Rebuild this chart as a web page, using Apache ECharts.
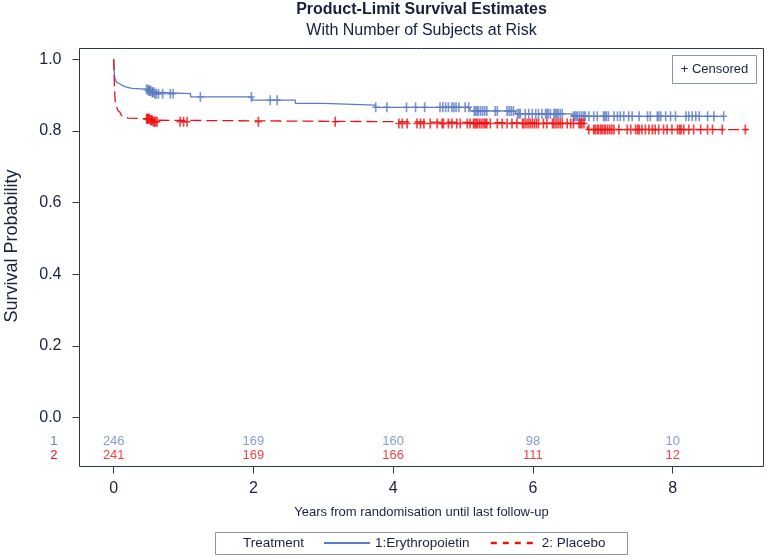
<!DOCTYPE html>
<html>
<head>
<meta charset="utf-8">
<script src="https://cdn.jsdelivr.net/npm/echarts@6/dist/echarts.min.js"></script>
<style>
html,body{margin:0;padding:0;background:#fff;}
#chart{width:767px;height:559px;}
</style>
</head>
<body>
<div id="chart"></div>
<script>
// ---- data ----
const timeEpo = [0, 0.003, 0.006, 0.01, 0.02, 0.03, 0.043, 0.06, 0.09, 0.12, 0.16, 0.20, 0.26, 0.50, 0.54, 0.58, 1.10, 1.98, 2.60, 3.00, 3.74, 5.10, 5.75, 6.56];
const survEpo = [1.000, 0.985, 0.970, 0.955, 0.945, 0.940, 0.936, 0.931, 0.927, 0.924, 0.922, 0.919, 0.916, 0.912, 0.908, 0.904, 0.895, 0.886, 0.877, 0.872, 0.866, 0.856, 0.848, 0.841];
const endEpo = 8.73;
const censorEpo = [0.47, 0.49, 0.50, 0.51, 0.52, 0.53, 0.55, 0.56, 0.57, 0.59, 0.61, 0.64, 0.70, 0.81, 0.85, 1.24, 1.97, 2.24, 2.34, 3.75, 3.91, 4.19, 4.32, 4.45, 4.67, 4.71, 4.75, 4.79, 4.84, 4.87, 4.90, 4.94, 5.03, 5.08, 5.16, 5.18, 5.20, 5.22, 5.25, 5.28, 5.31, 5.34, 5.46, 5.49, 5.63, 5.66, 5.69, 5.72, 5.78, 5.80, 5.82, 5.89, 5.94, 5.99, 6.04, 6.08, 6.13, 6.18, 6.20, 6.22, 6.25, 6.30, 6.32, 6.34, 6.36, 6.39, 6.42, 6.58, 6.60, 6.62, 6.64, 6.67, 6.70, 6.73, 6.75, 6.80, 6.87, 6.92, 7.01, 7.03, 7.05, 7.08, 7.16, 7.21, 7.25, 7.30, 7.37, 7.42, 7.52, 7.64, 7.68, 7.78, 7.80, 7.83, 7.90, 7.97, 8.04, 8.19, 8.23, 8.28, 8.33, 8.38, 8.50, 8.59, 8.73];

const timePla = [0, 0.003, 0.006, 0.01, 0.015, 0.02, 0.03, 0.043, 0.06, 0.075, 0.09, 0.11, 0.14, 0.17, 0.21, 0.52, 0.56, 3.95, 6.78];
const survPla = [1.000, 0.975, 0.950, 0.927, 0.905, 0.885, 0.875, 0.866, 0.857, 0.852, 0.848, 0.843, 0.838, 0.836, 0.834, 0.830, 0.826, 0.821, 0.804];
const endPla = 9.08;
const censorPla = [0.47, 0.48, 0.49, 0.50, 0.51, 0.53, 0.54, 0.55, 0.57, 0.58, 0.60, 0.62, 0.95, 1.00, 1.05, 2.07, 3.17, 4.08, 4.13, 4.20, 4.34, 4.39, 4.44, 4.53, 4.63, 4.70, 4.72, 4.79, 4.84, 4.91, 4.96, 5.06, 5.10, 5.15, 5.17, 5.19, 5.21, 5.24, 5.27, 5.30, 5.32, 5.34, 5.39, 5.49, 5.56, 5.63, 5.70, 5.77, 5.85, 5.87, 5.90, 5.93, 5.96, 5.99, 6.02, 6.05, 6.08, 6.15, 6.20, 6.28, 6.30, 6.33, 6.36, 6.39, 6.42, 6.49, 6.54, 6.58, 6.66, 6.68, 6.70, 6.73, 6.80, 6.87, 6.89, 6.92, 6.94, 6.97, 6.99, 7.02, 7.04, 7.07, 7.10, 7.13, 7.16, 7.23, 7.35, 7.40, 7.47, 7.50, 7.52, 7.56, 7.61, 7.66, 7.71, 7.75, 7.80, 7.87, 7.92, 7.99, 8.07, 8.10, 8.12, 8.16, 8.23, 8.30, 8.40, 8.50, 8.57, 8.71, 9.04];

const riskTimes = [0, 2, 4, 6, 8];
const riskEpo = [246, 169, 160, 98, 10];
const riskPla = [241, 169, 166, 111, 12];
const riskGroups = ['1', '2'];

const xTicks = [0, 2, 4, 6, 8];
const yTicks = [0.0, 0.2, 0.4, 0.6, 0.8, 1.0];
const seriesNames = ['1:Erythropoietin', '2: Placebo'];

// ---- styling ----
const FONT = '"Liberation Sans", Arial, sans-serif';
const TXT = '#18233d';
const AX = '#2c3852';
const BLUE = '#5b7cc4';
const BLUE_TXT = '#6384cc';
const RED = '#ee1111';
const BOXC = '#8a95a8';
const XMIN = -0.49, XMAX = 9.3;
const PLUS = 'path://M2.3,0 L3.7,0 L3.7,3.4 L6,3.4 L6,4.6 L3.7,4.6 L3.7,8 L2.3,8 L2.3,4.6 L0,4.6 L0,3.4 L2.3,3.4 Z';

function levelAt(times, surv, t) {
  let s = surv[0];
  for (let i = 0; i < times.length; i++) { if (times[i] <= t) s = surv[i]; else break; }
  return s;
}
function stepData(times, surv, end) {
  const d = times.map((t, i) => [t, surv[i]]);
  d.push([end, surv[surv.length - 1]]);
  return d;
}

const chart = echarts.init(document.getElementById('chart'), null, {renderer: 'canvas'});
const option = {
  animation: false,
  backgroundColor: '#fff',
  textStyle: {fontFamily: FONT},
  grid: [
    {left: 79.5, top: 59.3, width: 684, height: 358.4, outerBoundsMode: 'none', containLabel: false},
    {left: 79.5, top: 48.5, width: 684, height: 418, show: true, borderColor: AX, borderWidth: 1, backgroundColor: 'transparent', outerBoundsMode: 'none', containLabel: false},
    {left: 79.5, top: 434, width: 684, height: 28, outerBoundsMode: 'none', containLabel: false}
  ],
  xAxis: [
    {gridIndex: 0, type: 'value', min: XMIN, max: XMAX, show: false},
    {gridIndex: 1, type: 'value', min: XMIN, max: XMAX,
      axisLine: {show: false, onZero: false},
      axisTick: {show: true, customValues: xTicks, length: 7, lineStyle: {color: AX, width: 1}},
      axisLabel: {customValues: xTicks, fontSize: 16, color: TXT, margin: 14, fontFamily: FONT},
      splitLine: {show: false},
      name: 'Years from randomisation until last follow-up', nameLocation: 'middle', nameGap: 39,
      nameMoveOverlap: false,
      nameTextStyle: {fontSize: 13, color: TXT, fontFamily: FONT}
    },
    {gridIndex: 2, type: 'value', min: XMIN, max: XMAX, show: false}
  ],
  yAxis: [
    {gridIndex: 0, type: 'value', min: 0, max: 1, interval: 0.2,
      axisLine: {show: false, onZero: false},
      axisTick: {show: true, length: 7, lineStyle: {color: AX, width: 1}},
      axisLabel: {fontSize: 16, color: TXT, margin: 18, fontFamily: FONT, formatter: v => Number(v).toFixed(1)},
      splitLine: {show: false}
    },
    {gridIndex: 1, type: 'value', min: 0, max: 1, show: false, axisLine: {onZero: false}},
    {gridIndex: 2, type: 'category', data: riskGroups, inverse: true,
      axisLine: {show: false, onZero: false}, axisTick: {show: false}, splitLine: {show: false},
      axisLabel: {interval: 0, fontSize: 13, margin: 22, fontFamily: FONT, color: (v, i) => (i === 0 ? BLUE_TXT : RED)}
    }
  ],
  legend: {
    data: [
      {name: seriesNames[0], lineStyle: {width: 2, type: 'solid'}, itemStyle: {opacity: 0}},
      {name: seriesNames[1], lineStyle: {width: 2.5, type: [6, 6]}, itemStyle: {opacity: 0}}
    ],
    left: 323, top: 536, padding: 0, itemWidth: 46, itemHeight: 14, itemGap: 20, itemTextGap: 5,
    selectedMode: false,
    itemStyle: {opacity: 0},
    textStyle: {fontSize: 13.5, color: TXT, fontFamily: FONT}
  },
  series: [
    {name: seriesNames[0], type: 'line', xAxisIndex: 0, yAxisIndex: 0, step: 'end', symbol: 'none',
      data: stepData(timeEpo, survEpo, endEpo), color: BLUE,
      lineStyle: {color: BLUE, width: 1.3}, z: 3},
    {name: seriesNames[1], type: 'line', xAxisIndex: 0, yAxisIndex: 0, step: 'end', symbol: 'none',
      data: stepData(timePla, survPla, endPla), color: RED,
      lineStyle: {color: RED, width: 1.3, type: [11, 5]}, z: 3},
    {name: 'censEpo', type: 'scatter', xAxisIndex: 0, yAxisIndex: 0, symbol: PLUS, symbolSize: [7, 10],
      data: censorEpo.map(t => [t, levelAt(timeEpo, survEpo, t)]), itemStyle: {color: BLUE}, silent: true, z: 4},
    {name: 'censPla', type: 'scatter', xAxisIndex: 0, yAxisIndex: 0, symbol: PLUS, symbolSize: [7, 10],
      data: censorPla.map(t => [t, levelAt(timePla, survPla, t)]), itemStyle: {color: RED}, silent: true, z: 4},
    {name: 'riskEpo', type: 'scatter', xAxisIndex: 2, yAxisIndex: 2, symbolSize: 0.1,
      itemStyle: {color: 'transparent'}, silent: true,
      data: riskTimes.map((t, i) => [t, riskGroups[0], riskEpo[i]]),
      label: {show: true, position: 'inside', formatter: p => String(p.value[2]), fontSize: 13, color: BLUE_TXT, fontFamily: FONT}},
    {name: 'riskPla', type: 'scatter', xAxisIndex: 2, yAxisIndex: 2, symbolSize: 0.1,
      itemStyle: {color: 'transparent'}, silent: true,
      data: riskTimes.map((t, i) => [t, riskGroups[1], riskPla[i]]),
      label: {show: true, position: 'inside', formatter: p => String(p.value[2]), fontSize: 13, color: RED, fontFamily: FONT}}
  ],
  graphic: [
    {type: 'text', x: 421.5, y: 10, style: {text: 'Product-Limit Survival Estimates', fill: '#142040', font: 'bold 16px ' + FONT, align: 'center', verticalAlign: 'middle'}},
    {type: 'text', x: 421.5, y: 31, style: {text: 'With Number of Subjects at Risk', fill: '#142040', font: '16px ' + FONT, align: 'center', verticalAlign: 'middle'}},
    {type: 'text', x: 12, y: 246, rotation: Math.PI / 2, style: {text: 'Survival Probability', fill: TXT, font: '18px ' + FONT, align: 'center', verticalAlign: 'middle'}},
    {type: 'rect', shape: {x: 672.5, y: 55.5, width: 84, height: 28}, style: {fill: '#fff', stroke: BOXC, lineWidth: 1}, z: 10},
    {type: 'text', x: 714.5, y: 69.5, style: {text: '+ Censored', fill: TXT, font: '13px ' + FONT, align: 'center', verticalAlign: 'middle'}, z: 11},
    {type: 'rect', shape: {x: 215.5, y: 532.5, width: 412, height: 22}, style: {fill: 'none', stroke: BOXC, lineWidth: 1}},
    {type: 'text', x: 243, y: 543.5, style: {text: 'Treatment', fill: TXT, font: '13.5px ' + FONT, align: 'left', verticalAlign: 'middle'}}
  ]
};
chart.setOption(option);
</script>
</body>
</html>
